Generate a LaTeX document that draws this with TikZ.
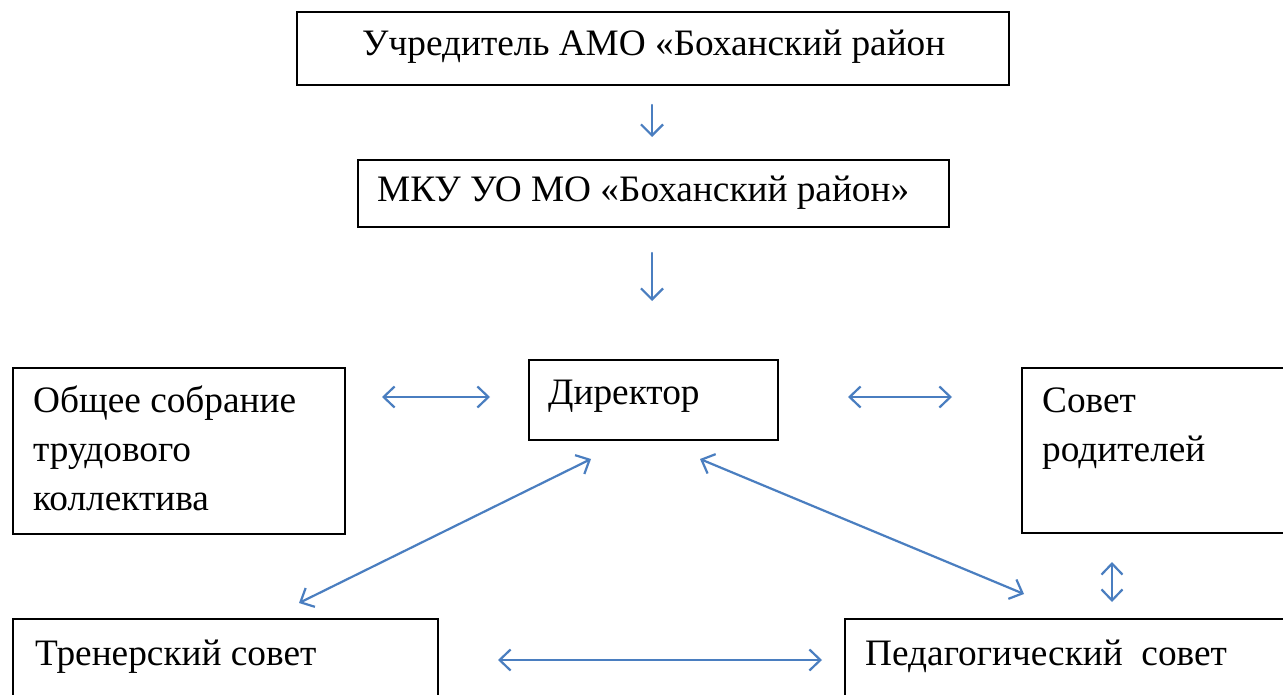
\documentclass[tikz,border=0pt]{standalone}
\usepackage{fontspec}
\setmainfont{Liberation Serif}
\usetikzlibrary{arrows.meta}
\definecolor{arrblue}{RGB}{74,126,192}
\tikzset{
  box/.style={draw=black, line width=1.8pt, inner sep=0pt, anchor=north west},
  txt/.style={anchor=base west, inner sep=0pt, font=\fontsize{37.3}{48}\selectfont},
  conn/.style={draw=arrblue, line width=2.2pt, line cap=round,
    arrows={Straight Barb[length=11pt,width=21pt,line width=2.2pt]-Straight Barb[length=11pt,width=21pt,line width=2.2pt]}},
  down/.style={draw=arrblue, line width=2.2pt, line cap=round,
    -{Straight Barb[length=11pt,width=22pt,line width=2.2pt]}}
}
\begin{document}
\begin{tikzpicture}[x=1pt,y=-1pt]
\useasboundingbox (0,0) rectangle (1283,695);
\fill[white] (0,0) rectangle (1283,695);
\clip (0,0) rectangle (1283,695);
% boxes
\node[box, minimum width=712pt, minimum height=73pt] (b1) at (296,11) {};
\node[box, minimum width=591pt, minimum height=67pt] (b2) at (357,159) {};
\node[box, minimum width=249pt, minimum height=80pt] (dir) at (528,359) {};
\node[box, minimum width=332pt, minimum height=166pt] (gen) at (12,367) {};
\node[box, minimum width=300pt, minimum height=165pt] (par) at (1021,367) {};
\node[box, minimum width=425pt, minimum height=100pt] (tr) at (12,618) {};
\node[box, minimum width=460pt, minimum height=100pt] (ped) at (844,618) {};
% texts
\node[txt] (t1) at (362,56) {Учредитель АМО «Боханский район};
\node[txt] (t2) at (377,202) {МКУ УО МО «Боханский район»};
\node[txt] (td) at (548,404) {Директор};
\node[txt] (tg1) at (33,412) {Общее собрание};
\node[txt] (tg2) at (33,461) {трудового};
\node[txt] (tg3) at (33,510) {коллектива};
\node[txt] (tp1) at (1042,412) {Совет};
\node[txt] (tp2) at (1042,461) {родителей};
\node[txt] (tt) at (35,665) {Тренерский совет};
\node[txt] (tpd) at (865,665) {Педагогический\ \ совет};
% connector end points
\coordinate (a1s) at (652,105); \coordinate (a1e) at (652,137);
\coordinate (a2s) at (652,253); \coordinate (a2e) at (652,301);
\coordinate (hl1) at (382,397); \coordinate (hl2) at (490,397);
\coordinate (hr1) at (848,397); \coordinate (hr2) at (952,397);
\coordinate (dl1) at (591,459); \coordinate (dl2) at (299,603);
\coordinate (dr1) at (700,459); \coordinate (dr2) at (1024,594);
\coordinate (v1) at (1112,562); \coordinate (v2) at (1112,602);
\coordinate (hb1) at (498,660); \coordinate (hb2) at (822,660);
% connectors
\draw[down] (a1s) -- (a1e);
\draw[down] (a2s) -- (a2e);
\draw[conn] (hl1) -- (hl2);
\draw[conn] (hr1) -- (hr2);
\draw[conn] (dl1) -- (dl2);
\draw[conn] (dr1) -- (dr2);
\draw[conn] (v1) -- (v2);
\draw[conn] (hb1) -- (hb2);
\end{tikzpicture}
\end{document}
